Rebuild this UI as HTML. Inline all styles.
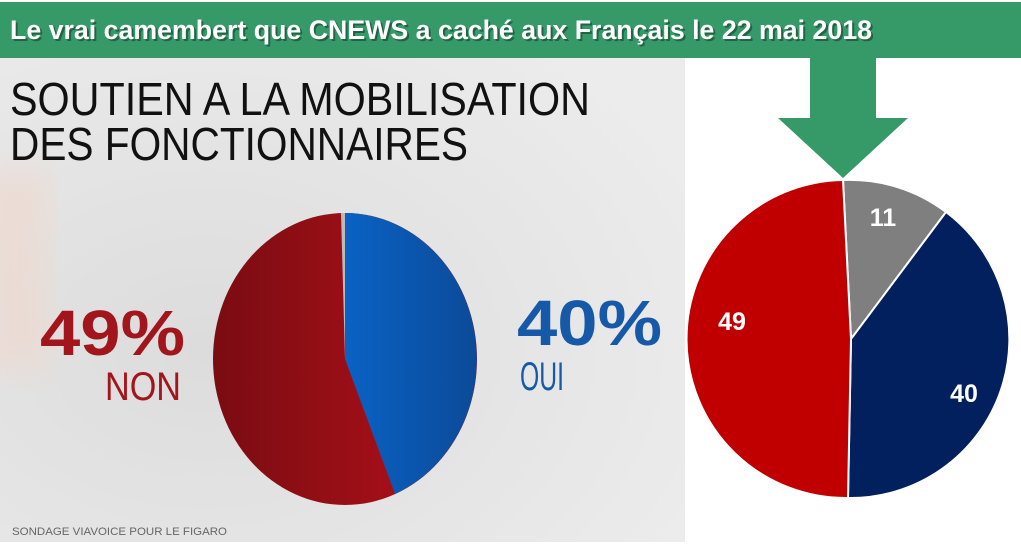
<!DOCTYPE html>
<html><head><meta charset="utf-8"><style>
body{margin:0;width:1021px;height:550px;overflow:hidden;background:#fff;font-family:"Liberation Sans",sans-serif;position:relative}
</style></head><body>
<svg width="1021" height="550" style="position:absolute;left:0;top:0">
<defs>
<radialGradient id="bg" cx="0.3" cy="0.6" r="0.8"><stop offset="0" stop-color="#dcdcdc"/><stop offset="1" stop-color="#ececec"/></radialGradient>
<linearGradient id="rd" x1="0" x2="1"><stop offset="0" stop-color="#7a0c12"/><stop offset="0.7" stop-color="#a50f18"/><stop offset="1" stop-color="#8c0c14"/></linearGradient>
<linearGradient id="bl" x1="0" x2="1"><stop offset="0" stop-color="#0a62c4"/><stop offset="1" stop-color="#0b4a98"/></linearGradient>
<filter id="bx"><feGaussianBlur stdDeviation="15"/></filter>
</defs>
<rect x="0" y="58" width="685" height="484" fill="url(#bg)"/>
<rect x="-20" y="170" width="70" height="200" fill="#f0d8cc" opacity="0.6" filter="url(#bx)"/>
<ellipse cx="345" cy="359" rx="132" ry="146" fill="url(#rd)"/>
<path d="M345,359 L345,213 A132,146 0 0 1 395,494 Z" fill="url(#bl)"/>
<path d="M345,359 L341,213 L345,213 Z" fill="#bbb"/>
<text x="10" y="115" font-size="46" fill="#111" textLength="580" lengthAdjust="spacingAndGlyphs">SOUTIEN A LA MOBILISATION</text>
<text x="10" y="160" font-size="46" fill="#111" textLength="458" lengthAdjust="spacingAndGlyphs">DES FONCTIONNAIRES</text>
<text x="40" y="355" font-size="64" font-weight="bold" fill="#a3151c" textLength="145" lengthAdjust="spacingAndGlyphs">49%</text>
<text x="105" y="400" font-size="40" fill="#a3151c" textLength="76" lengthAdjust="spacingAndGlyphs">NON</text>
<text x="517" y="345" font-size="64" font-weight="bold" fill="#1559a8" textLength="145" lengthAdjust="spacingAndGlyphs">40%</text>
<text x="520" y="390" font-size="40" fill="#1559a8" textLength="44" lengthAdjust="spacingAndGlyphs">OUI</text>
<text x="12" y="535" font-size="11" fill="#666" textLength="215" lengthAdjust="spacingAndGlyphs">SONDAGE VIAVOICE POUR LE FIGARO</text>
<rect x="0" y="2" width="1021" height="56" fill="#359a68"/>
<path d="M810,58 H876 V118 H908 L843,178 L778,118 H810 Z" fill="#359a68"/>
<text x="12" y="41" font-size="27" font-weight="bold" fill="#000" opacity="0.35" textLength="862" lengthAdjust="spacingAndGlyphs">Le vrai camembert que CNEWS a caché aux Français le 22 mai 2018</text>
<text x="10" y="39" font-size="27" font-weight="bold" fill="#fff" textLength="862" lengthAdjust="spacingAndGlyphs">Le vrai camembert que CNEWS a caché aux Français le 22 mai 2018</text>
<g stroke="#fff" stroke-width="2">
<path d="M851,339 L843,180 A159,159 0 0 1 946,212 Z" fill="#7f7f7f"/>
<path d="M851,339 L946,212 A159,159 0 0 1 848,498 Z" fill="#021f5e"/>
<path d="M851,339 L848,498 A159,159 0 0 1 843,180 Z" fill="#c00000"/>
</g>
<g font-size="25" font-weight="bold" fill="#fff" text-anchor="middle">
<text x="883" y="226">11</text>
<text x="732" y="330">49</text>
<text x="964" y="402">40</text>
</g>
</svg>
</body></html>
